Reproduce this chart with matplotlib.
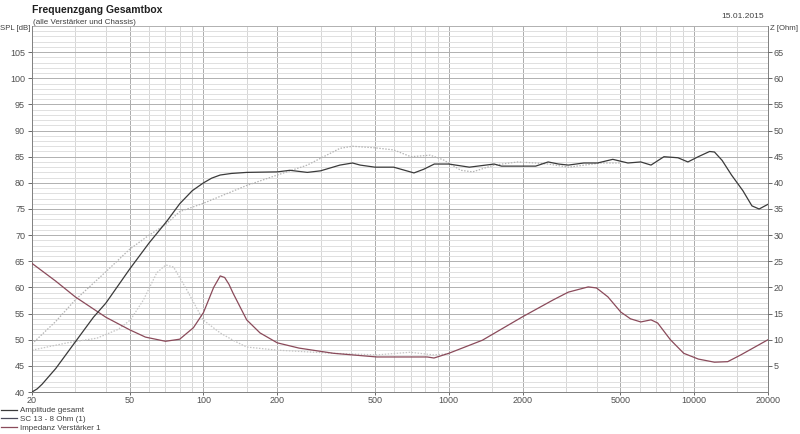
import numpy as np
import matplotlib.pyplot as plt
from matplotlib.lines import Line2D
from matplotlib.ticker import FixedLocator, NullLocator

plt.rcParams['font.family'] = ['Liberation Sans', 'DejaVu Sans']

# --- data ---
# Amplitude gesamt (SPL, dB)
amp_f = [20, 21, 22, 25, 29.4, 35.6, 40, 50, 60, 71, 80, 90, 100, 108, 117, 130, 150, 200,
         225, 265, 300, 360, 405, 435, 500, 596, 650, 721, 790, 873, 1000, 1213, 1530, 1640,
         2260, 2540, 2800, 3070, 3550, 4040, 4660, 5370, 6060, 6670, 7530, 8590, 9430,
         10390, 11560, 12100, 13000, 14200, 15800, 17200, 18400, 20000]
amp_db = [40.0, 40.6, 41.5, 44.5, 49.0, 54.3, 57.0, 63.5, 68.5, 72.7, 76.0, 78.5, 80.0,
          80.9, 81.5, 81.8, 82.0, 82.1, 82.4, 82.0, 82.3, 83.4, 83.8, 83.4, 83.0, 83.0,
          82.5, 81.9, 82.6, 83.6, 83.6, 83.0, 83.6, 83.2, 83.2, 84.0, 83.6, 83.4, 83.8,
          83.8, 84.5, 83.8, 84.0, 83.4, 85.0, 84.8, 84.0, 85.0, 86.0, 85.9, 84.3, 81.5,
          78.5, 75.6, 75.0, 75.9]

# SC 13 - 8 Ohm (1): chassis SPL (dotted)
sc_f = [20, 25, 30, 40, 50, 60, 70, 80, 100, 150, 200, 265, 300, 360, 405, 500, 596, 700,
        840, 950, 1120, 1250, 1530, 1910, 2250, 2540, 3080, 4160, 5000]
sc_db = [49.2, 53.5, 57.6, 63.0, 67.3, 70.0, 72.0, 74.5, 76.1, 79.5, 81.5, 83.4, 84.7, 86.6,
         87.0, 86.7, 86.3, 85.0, 85.3, 84.4, 82.4, 82.1, 83.4, 84.0, 83.8, 83.6, 83.0, 83.8,
         83.8]

# SC 13 - 8 Ohm (1): chassis impedance (dotted, right axis)
scz_f = [20, 27.8, 36.8, 45, 50.4, 56.9, 64.5, 70.2, 75.5, 85.6, 99.6, 117, 132, 150, 200,
         339, 509, 696, 867, 1000]
scz_ohm = [8.0, 9.4, 10.3, 12.0, 13.8, 17.6, 22.8, 24.3, 23.9, 19.5, 13.8, 11.3, 9.9, 8.6,
           8.0, 7.4, 7.1, 7.6, 7.1, 7.3]

# Impedanz Verstaerker 1 (right axis, Ohm)
imp_f = [20, 25, 30, 40, 50, 58, 70, 80, 91, 100, 110, 117, 122, 127, 132, 150, 170, 200,
         245, 339, 509, 634, 817, 870, 1000, 1370, 2000, 2660, 3070, 3700, 4000, 4450,
         5020, 5500, 6060, 6670, 7100, 8000, 9070, 10400, 12100, 13700, 15500, 20000]
imp_ohm = [24.6, 21.2, 18.2, 14.3, 11.9, 10.5, 9.7, 10.1, 12.3, 15.2, 20.0, 22.2, 21.9,
           20.6, 18.9, 13.8, 11.3, 9.4, 8.4, 7.4, 6.7, 6.7, 6.7, 6.5, 7.4, 9.9, 14.4, 17.6,
           19.1, 20.1, 19.9, 18.2, 15.3, 14.0, 13.4, 13.8, 13.2, 10.0, 7.4, 6.3, 5.7, 5.8,
           7.1, 10.0]

x_labels = [20, 50, 100, 200, 500, 1000, 2000, 5000, 10000, 20000]
x_grid = [20, 30, 40, 50, 60, 70, 80, 90, 100, 150, 200, 300, 400, 500, 600, 700, 800, 900,
          1000, 1500, 2000, 3000, 4000, 5000, 6000, 7000, 8000, 9000, 10000, 15000, 20000]
x_major = [50, 100, 200, 500, 1000, 2000, 5000, 10000]

fig = plt.figure(figsize=(8, 4.34), dpi=100)
ax = fig.add_axes([32 / 800, 1 - 392 / 434, 736 / 800, 366 / 434])
ax.set_xscale('log')
ax.set_xlim(20, 20000)
ax.set_ylim(40, 110)

# grid
for f in x_grid:
    c = '#ababab' if f in x_major else '#d6d6d6'
    ax.axvline(f, color=c, lw=0.7, zorder=0)
for v in range(41, 111):
    c = '#b0b0b0' if v % 5 == 0 else '#e0e0e0'
    ax.axhline(v, color=c, lw=0.7, zorder=0)

# curves
ax.plot(sc_f, sc_db, color='#b4b4b4', lw=0.9, ls=(0, (1.2, 1.2)), zorder=2)
ax.plot(scz_f, np.array(scz_ohm) + 40, color='#c4c4c4', lw=0.9, ls=(0, (1.2, 1.2)), zorder=2)
ax.plot(imp_f, np.array(imp_ohm) + 40, color='#8a4a5a', lw=0.9, zorder=3)
ax.plot(amp_f, amp_db, color='#3a3a3a', lw=0.9, zorder=4)

# axes styling
ax.spines['top'].set_visible(False)
for s in ['left', 'bottom', 'right']:
    ax.spines[s].set_color('#808080')
    ax.spines[s].set_linewidth(0.7)

ax.xaxis.set_major_locator(FixedLocator(x_labels))
ax.xaxis.set_minor_locator(NullLocator())
ax.set_xticklabels([str(v) for v in x_labels])
ax.set_yticks(range(40, 110, 5))
ax.tick_params(axis='both', labelsize=6.5, colors='#505050', length=3, width=0.6, pad=2)
ax.tick_params(axis='x', length=2, pad=1)

ax2 = ax.twinx()
ax2.set_ylim(0, 70)
ax2.set_yticks(range(5, 70, 5))
ax2.tick_params(axis='y', labelsize=6.5, colors='#505050', length=3, width=0.6, pad=1)
for s in ax2.spines.values():
    s.set_visible(False)

# texts
fig.text(32 / 800, 1 - 10 / 434, 'Frequenzgang Gesamtbox', fontsize=7.5, color='#202020',
         fontweight='bold', va='center', ha='left')
fig.text(33 / 800, 1 - 22 / 434, '(alle Verstärker und Chassis)', fontsize=5.8,
         color='#404040', va='center', ha='left')
fig.text(764 / 800, 1 - 17 / 434, '15.01.2015', fontsize=6, color='#404040',
         va='center', ha='right')
fig.text(30 / 800, 1 - 28 / 434, 'SPL [dB]', fontsize=5.6, color='#404040',
         va='center', ha='right')
fig.text(770 / 800, 1 - 28 / 434, 'Z [Ohm]', fontsize=5.6, color='#404040',
         va='center', ha='left')

# legend
handles = [Line2D([0], [0], color='#3a3a3a', lw=0.9),
           Line2D([0], [0], color='#4a4a5a', lw=0.9),
           Line2D([0], [0], color='#8a4a5a', lw=0.9)]
labels = ['Amplitude gesamt', 'SC 13 - 8 Ohm (1)', 'Impedanz Verstärker 1']
fig.legend(handles, labels, loc='upper left', bbox_to_anchor=(0, 1 - 406 / 434),
           frameon=False, fontsize=5.8, handlelength=2.0, handletextpad=0.4,
           labelspacing=0.12, borderpad=0.1, borderaxespad=0.0, labelcolor='#404040')

fig.savefig('out.png', dpi=100)
